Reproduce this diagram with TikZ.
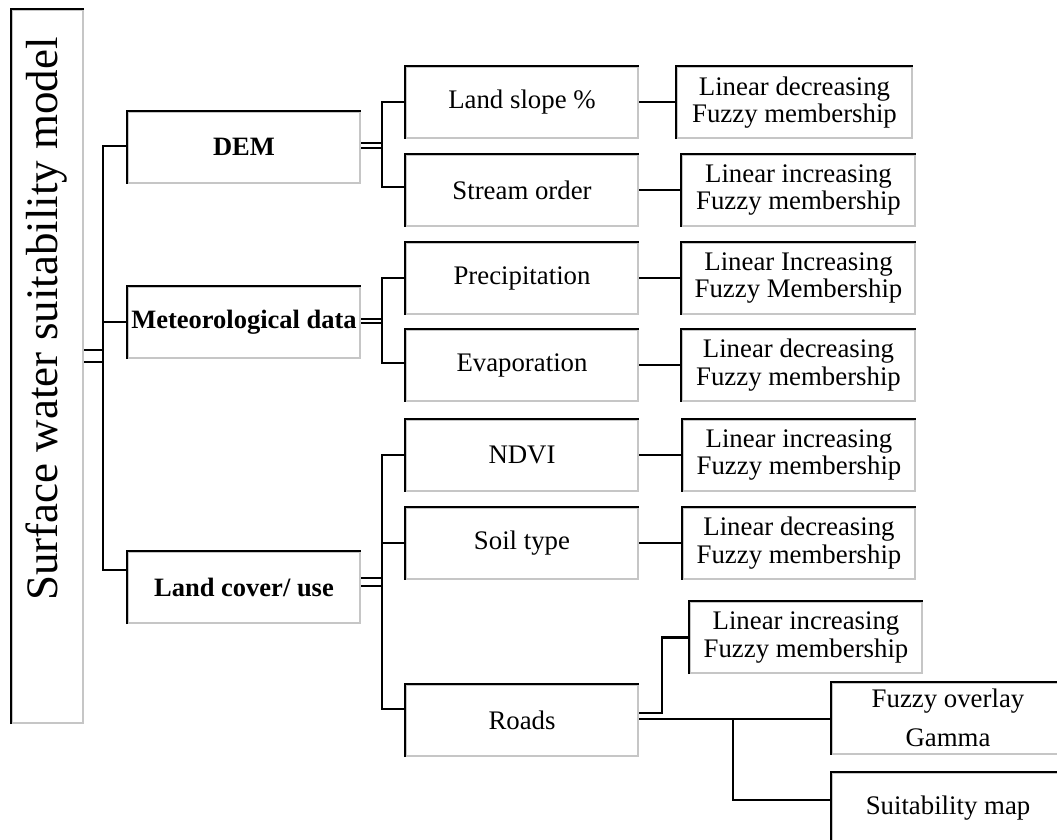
\documentclass[tikz,border=0pt]{standalone}
\usepackage{fontspec}
\setmainfont{Liberation Serif}
\begin{document}
\begin{tikzpicture}[x=1pt,y=-1pt,
  bx/.style={draw=gray!45, line width=2pt, minimum width=232pt, minimum height=71pt,
    inner sep=0pt, align=center, font=\fontsize{26.8}{27.5}\selectfont},
  bbx/.style={bx, font=\fontsize{26.5}{27.5}\selectfont\bfseries},
  topleft/.style={draw=black, line width=2pt},
  conn/.style={draw=black, line width=2.6pt},
  dbl/.style={draw=black, line width=2pt}]
\useasboundingbox (0,0) rectangle (1057,839);
\clip (0,0) rectangle (1057,839);
% main box
\node[bx, minimum width=71pt, minimum height=713pt] (main) at (47.5,366.5) {};
\node[rotate=90, inner sep=0pt, font=\fontsize{45}{50}\selectfont] (maintext) at (47,319) {Surface water suitability model};
% level 1
\node[bbx] (dem) at (244,147) {DEM};
\node[bbx] (met) at (244,322.5) {Meteorological data};
\node[bbx] (lc) at (244,587.5) {Land cover/ use};
% level 2
\node[bx] (slope) at (522,102) {Land slope \%};
\node[bx] (stream) at (522,190) {Stream order};
\node[bx] (precip) at (522,278) {Precipitation};
\node[bx] (evap) at (522,365) {Evaporation};
\node[bx] (ndvi) at (522,455) {NDVI};
\node[bx] (soil) at (522,543) {Soil type};
\node[bx] (roads) at (522,720.5) {Roads};
% level 3
\node[bx, minimum width=235pt] (fz1) at (794.5,102.5) {Linear decreasing\\Fuzzy membership};
\node[bx, minimum width=233pt] (fz2) at (798.5,190) {Linear increasing\\Fuzzy membership};
\node[bx, minimum width=233pt] (fz3) at (798.5,278) {Linear Increasing\\Fuzzy Membership};
\node[bx, minimum width=233pt] (fz4) at (798.5,365) {Linear decreasing\\Fuzzy membership};
\node[bx] (fz5) at (799,455) {Linear increasing\\Fuzzy membership};
\node[bx] (fz6) at (799,543) {Linear decreasing\\Fuzzy membership};
\node[bx] (fz7) at (806,637.5) {Linear increasing\\Fuzzy membership};
\node[bx] (fo) at (948,718) {Fuzzy overlay\\[12pt]Gamma};
\node[bx] (sm) at (948,808) {Suitability map};
% black top/left edges
\foreach \n in {main,dem,met,lc,slope,stream,precip,evap,ndvi,soil,roads,fz1,fz2,fz3,fz4,fz5,fz6,fz7,fo,sm}
  \draw[topleft] (\n.south west) -- (\n.north west) -- (\n.north east);
% main trunk
\coordinate (tA) at (103,146);
\coordinate (tB) at (103,322);
\coordinate (tC) at (103,570);
\coordinate (tM1) at (103,350);
\coordinate (tM2) at (103,362);
\draw[conn] (dem.west |- tA) -- (tA) -- (tC) -- (lc.west |- tC);
\draw[conn] (tB) -- (met.west |- tB);
\draw[dbl] (main.east |- tM1) -- (tM1);
\draw[dbl] (main.east |- tM2) -- (tM2);
% DEM
\coordinate (dA) at (382,102);
\coordinate (dB) at (382,187);
\coordinate (dM1) at (382,143);
\coordinate (dM2) at (382,148);
\draw[conn] (slope.west |- dA) -- (dA) -- (dB) -- (stream.west |- dB);
\draw[dbl] (dem.east |- dM1) -- (dM1);
\draw[dbl] (dem.east |- dM2) -- (dM2);
% Met
\coordinate (mA) at (382,278);
\coordinate (mB) at (382,363);
\coordinate (mM1) at (382,318.5);
\coordinate (mM2) at (382,323);
\draw[conn] (precip.west |- mA) -- (mA) -- (mB) -- (evap.west |- mB);
\draw[dbl] (met.east |- mM1) -- (mM1);
\draw[dbl] (met.east |- mM2) -- (mM2);
% Land cover
\coordinate (lA) at (382,455);
\coordinate (lS) at (382,543);
\coordinate (lB) at (382,709);
\coordinate (lM1) at (382,578);
\coordinate (lM2) at (382,586);
\draw[conn] (ndvi.west |- lA) -- (lA) -- (lB) -- (roads.west |- lB);
\draw[conn] (lS) -- (soil.west |- lS);
\draw[dbl] (lc.east |- lM1) -- (lM1);
\draw[dbl] (lc.east |- lM2) -- (lM2);
% level 2 -> level 3
\draw[conn] (slope.east) -- (slope.east -| fz1.west);
\draw[conn] (stream.east) -- (stream.east -| fz2.west);
\draw[conn] (precip.east) -- (precip.east -| fz3.west);
\draw[conn] (evap.east) -- (evap.east -| fz4.west);
\draw[conn] (ndvi.east) -- (ndvi.east -| fz5.west);
\draw[conn] (soil.east) -- (soil.east -| fz6.west);
% roads
\coordinate (rA) at (662,713);
\coordinate (rJ) at (733,719);
\coordinate (rK) at (733,800);
\draw[conn] (roads.east |- rA) -- (rA) -- (rA |- fz7.west) -- (fz7.west);
\draw[conn] (roads.east |- rJ) -- (rJ) -- (fo.west |- rJ);
\draw[conn] (rJ) -- (rK) -- (sm.west |- rK);
\end{tikzpicture}
\end{document}
